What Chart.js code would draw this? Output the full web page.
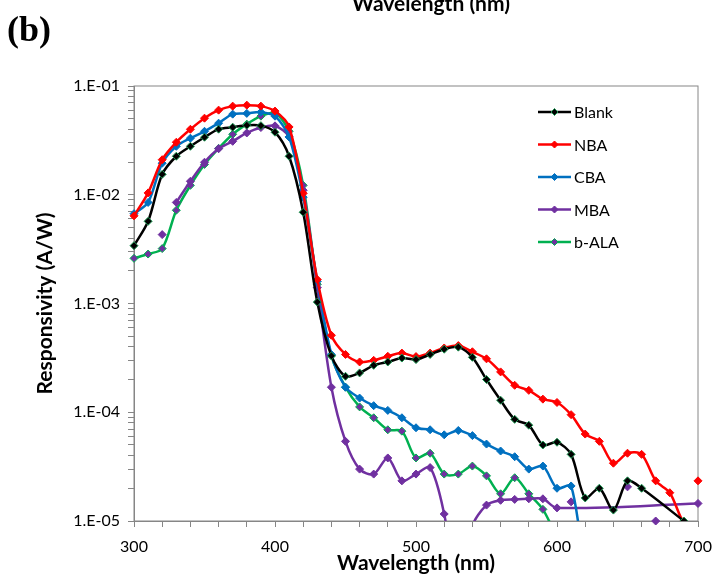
<!DOCTYPE html>
<html>
<head>
<meta charset="utf-8">
<script src="https://cdn.jsdelivr.net/npm/chart.js@4.4.0/dist/chart.umd.min.js"></script>
<style>
  html, body { margin: 0; padding: 0; background: #fff; }
  #wrap { width: 714px; height: 577px; }
</style>
</head>
<body>
<div id="wrap"><canvas id="chart" width="714" height="577"></canvas></div>
<script>
const wavelengths = [300, 310, 320, 330, 340, 350, 360, 370, 380, 390,
  400, 410, 420, 430, 440, 450, 460, 470, 480, 490,
  500, 510, 520, 530, 540, 550, 560, 570, 580, 590,
  600, 610, 620, 630, 640, 650, 660, 670, 680, 690, 700];

const blank = [3.4e-3, 5.7e-3, 1.54e-2, 2.26e-2, 2.79e-2, 3.38e-2, 4.01e-2, 4.18e-2, 4.35e-2, 4.32e-2,
  3.76e-2, 2.26e-2, 6.9e-3, 1.03e-3, 3.3e-4, 2.14e-4, 2.3e-4, 2.7e-4, 2.9e-4, 3.15e-4,
  3.05e-4, 3.4e-4, 3.8e-4, 3.97e-4, 3.2e-4, 2.0e-4, 1.29e-4, 8.6e-5, 7.6e-5, 5.0e-5,
  5.3e-5, 4.1e-5, 1.63e-5, 2.0e-5, 1.26e-5, 2.34e-5, 2.0e-5, null, null, 1.0e-5, null];

const nba = [6.4e-3, 1.04e-2, 2.1e-2, 3.04e-2, 4.0e-2, 5.06e-2, 6.0e-2, 6.53e-2, 6.67e-2, 6.53e-2,
  5.88e-2, 4.2e-2, 1.03e-2, 1.66e-3, 5.1e-4, 3.4e-4, 2.9e-4, 3.0e-4, 3.27e-4, 3.5e-4,
  3.25e-4, 3.5e-4, 3.9e-4, 4.1e-4, 3.6e-4, 3.1e-4, 2.35e-4, 1.77e-4, 1.59e-4, 1.32e-4,
  1.23e-4, 9.5e-5, 6.3e-5, 5.4e-5, 3.4e-5, 4.2e-5, 4.1e-5, 2.34e-5, 1.82e-5, 1.0e-5, 2.34e-5];

const cba = [6.7e-3, 8.5e-3, 1.95e-2, 2.79e-2, 3.31e-2, 3.83e-2, 4.55e-2, 5.51e-2, 5.6e-2, 5.75e-2,
  5.28e-2, 3.4e-2, 9.5e-3, 1.6e-3, 3.4e-4, 1.7e-4, 1.35e-4, 1.15e-4, 1.04e-4, 8.9e-5,
  7.2e-5, 6.9e-5, 6.2e-5, 6.8e-5, 6.1e-5, 5.1e-5, 4.4e-5, 3.9e-5, 3.0e-5, 3.2e-5,
  2.0e-5, 2.1e-5, 3e-6, null, null, null, null, null, null, null, null];

const mba = [null, null, null, 8.5e-3, 1.33e-2, 1.99e-2, 2.65e-2, 3.1e-2, 3.7e-2, 4.15e-2,
  4.3e-2, 3.4e-2, 1.1e-2, 1.4e-3, 1.7e-4, 5.4e-5, 3.0e-5, 2.7e-5, 3.8e-5, 2.34e-5,
  2.7e-5, 3.1e-5, 1.16e-5, 2e-6, 9e-6, 1.4e-5, 1.55e-5, 1.58e-5, 1.6e-5, 1.6e-5,
  1.32e-5, null, null, null, null, null, null, null, null, null, 1.45e-5];

// MBA markers that Excel drew without a connecting line
const mbaLooseX = [320, 610, 650, 670];
const mbaLooseY = [4.3e-3, 1.5e-5, 2.06e-5, 1.0e-5];

const bala = [2.6e-3, 2.85e-3, 3.2e-3, 7.2e-3, 1.22e-2, 1.9e-2, 2.67e-2, 3.6e-2, 4.46e-2, 5.28e-2,
  5.63e-2, 3.83e-2, 1.22e-2, 1.5e-3, 3.3e-4, 1.7e-4, 1.12e-4, 8.9e-5, 6.9e-5, 6.7e-5,
  3.8e-5, 4.2e-5, 2.7e-5, 2.7e-5, 3.2e-5, 2.6e-5, 1.78e-5, 2.5e-5, 1.78e-5, 1.28e-5,
  7e-6, null, null, null, null, null, null, null, null, null, null];

const seriesNames = ["Blank", "NBA", "CBA", "MBA", "b-ALA"];
const decades = [1e-5, 1e-4, 1e-3, 1e-2, 1e-1];
const minorSteps = [2, 3, 4, 5, 6, 7, 8, 9];

const GREEN = "#00b050";
const PURPLE = "#7030a0";
const AXIS = "#868686";
const FONT = "Lato, 'Open Sans', sans-serif";

function pts(values) {
  return wavelengths.map((w, i) => ({ x: w, y: values[i] }));
}

function series(label, values, line, fill, edge, extra) {
  return Object.assign({
    label,
    data: pts(values),
    borderColor: line,
    backgroundColor: fill,
    pointBackgroundColor: fill,
    pointBorderColor: edge,
    pointBorderWidth: 1,
    pointStyle: "rectRot",
    pointRadius: 4,
    borderWidth: 2.5,
    tension: 0.3,
    clip: { left: 6, right: 8, top: 6, bottom: 0 }
  }, extra || {});
}

const datasets = [
  series("Blank", blank, "#000000", "#000000", "#1f9a55", { spanGaps: true }),
  series("NBA", nba, "#ff0000", "#ff0000", "#ff0000", {
    segment: { borderColor: ctx => ctx.p1DataIndex === 40 ? "rgba(0,0,0,0)" : undefined }
  }),
  series("CBA", cba, "#0070c0", "#0070c0", "#0070c0"),
  series("MBA", mba, PURPLE, PURPLE, PURPLE, { spanGaps: true }),
  series("b-ALA", bala, GREEN, PURPLE, GREEN),
  {
    label: "",
    data: mbaLooseX.map((x, i) => ({ x, y: mbaLooseY[i] })),
    showLine: false,
    pointStyle: "rectRot",
    pointRadius: 4,
    pointBackgroundColor: PURPLE,
    pointBorderColor: PURPLE,
    clip: { left: 6, right: 8, top: 6, bottom: 4 }
  }
];

function diamond(ctx, x, y, r) {
  ctx.beginPath();
  ctx.moveTo(x, y - r);
  ctx.lineTo(x + r, y);
  ctx.lineTo(x, y + r);
  ctx.lineTo(x - r, y);
  ctx.closePath();
}

const decorPlugin = {
  id: "decor",
  beforeDatasetsDraw(chart) {
    const { ctx, chartArea: a } = chart;
    ctx.save();
    ctx.strokeStyle = AXIS;
    ctx.lineWidth = 1;
    ctx.strokeRect(a.left, a.top, a.right - a.left, a.bottom - a.top);
    ctx.restore();
  },
  afterDraw(chart) {
    const ctx = chart.ctx;
    ctx.save();
    // legend inside the plot area
    ctx.font = "16px " + FONT;
    ctx.textBaseline = "middle";
    seriesNames.forEach((name, i) => {
      const ds = chart.data.datasets[i];
      const y = 112 + i * 32.5;
      ctx.strokeStyle = ds.borderColor;
      ctx.lineWidth = 2.5;
      ctx.beginPath();
      ctx.moveTo(538, y);
      ctx.lineTo(571, y);
      ctx.stroke();
      diamond(ctx, 554.5, y, 3.5);
      ctx.fillStyle = ds.pointBackgroundColor;
      ctx.fill();
      ctx.lineWidth = 1;
      ctx.strokeStyle = ds.pointBorderColor;
      ctx.stroke();
      ctx.fillStyle = "#000";
      ctx.textAlign = "left";
      ctx.fillText(name, 574, y + 1);
    });
    // panel label and the cut-off title of the panel above
    ctx.fillStyle = "#000";
    ctx.font = "bold 36px 'Liberation Serif', serif";
    ctx.textAlign = "left";
    ctx.textBaseline = "alphabetic";
    ctx.fillText("(b)", 7, 41);
    ctx.font = "bold 21px " + FONT;
    ctx.textAlign = "center";
    ctx.fillText("Wavelength (nm)", 431, 11);
    ctx.restore();
  }
};

new Chart(document.getElementById("chart"), {
  type: "line",
  data: { datasets },
  plugins: [decorPlugin],
  options: {
    responsive: false,
    animation: false,
    layout: { padding: { top: 86, right: 16, left: 30, bottom: 0 } },
    plugins: {
      legend: { display: false },
      tooltip: { enabled: false }
    },
    scales: {
      x: {
        type: "linear",
        min: 300,
        max: 700,
        afterFit: s => { s.height = 56; s.paddingRight = 0; s.paddingLeft = 0; },
        border: { color: AXIS, width: 1 },
        grid: { drawOnChartArea: false, color: AXIS, tickLength: 6 },
        ticks: {
          stepSize: 20,
          autoSkip: false,
          maxRotation: 0,
          padding: 10,
          color: "#000",
          font: { family: FONT, size: 16 },
          callback: v => (v % 100 === 0 ? String(v) : "")
        },
        title: {
          display: true,
          text: "Wavelength (nm)",
          color: "#000",
          font: { family: FONT, size: 21, weight: "bold" },
          padding: { top: 0, bottom: 1 }
        }
      },
      y: {
        type: "logarithmic",
        min: 1e-5,
        max: 1e-1,
        afterFit: s => { s.width = 104; },
        afterBuildTicks: s => {
          const vals = [];
          decades.forEach(d => {
            vals.push(d);
            if (d < 1e-1) minorSteps.forEach(m => vals.push(d * m));
          });
          s.ticks = vals.map(v => ({ value: v }));
        },
        border: { color: AXIS, width: 1 },
        grid: { drawOnChartArea: false, color: AXIS, tickLength: 6 },
        ticks: {
          autoSkip: false,
          padding: 8,
          color: "#000",
          font: { family: FONT, size: 16 },
          callback: v => {
            const e = Math.round(Math.log10(v));
            if (Math.abs(v / Math.pow(10, e) - 1) > 1e-6) return "";
            return "1.E-" + String(-e).padStart(2, "0");
          }
        },
        title: {
          display: true,
          text: "Responsivity (A/W)",
          color: "#000",
          font: { family: FONT, size: 21, weight: "bold" },
          padding: { top: 3, bottom: 0 }
        }
      }
    }
  }
});
</script>
</body>
</html>
